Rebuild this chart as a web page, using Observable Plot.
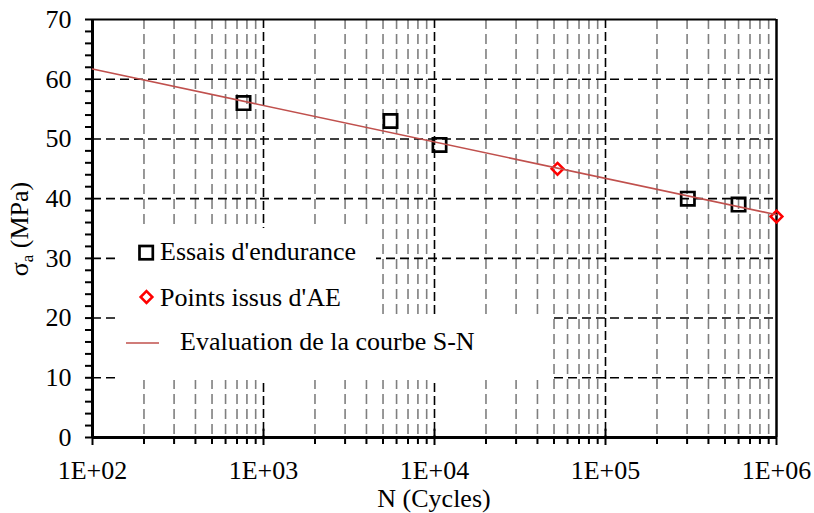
<!DOCTYPE html>
<html><head><meta charset="utf-8">
<script src="https://cdn.jsdelivr.net/npm/d3@7"></script>
<script src="https://cdn.jsdelivr.net/npm/@observablehq/plot@0.6"></script>
<style>body{margin:0;background:#fff}</style>
</head><body><div id="chart"></div>
<script>
// Data
const essaisN = [764, 5530, 10700, 303000, 600000];
const essaisS = [56, 53, 49, 40, 39];
const aeN = [52400, 1000000];
const aeS = [45, 37];
const courbeN = [100, 1000000];
const courbeS = [61.7, 37.3];
const xMajor = [1e2, 1e3, 1e4, 1e5, 1e6];
const xTickLabels = ["1E+02", "1E+03", "1E+04", "1E+05", "1E+06"];
const yMajor = [0, 10, 20, 30, 40, 50, 60, 70];
const yMinor = d3.range(0, 71, 2);
const legendLabels = ["Essais d'endurance", "Points issus d'AE", "Evaluation de la courbe S-N"];
const xTitle = "N (Cycles)";

const xMinor = [];
for (const dec of xMajor.slice(0, -1)) for (let k = 2; k <= 9; k++) xMinor.push(k * dec);

const essais = essaisN.map((n, i) => ({n, s: essaisS[i]}));
const ae = aeN.map((n, i) => ({n, s: aeS[i]}));
const courbe = courbeN.map((n, i) => ({n, s: courbeS[i]}));

const font = "'Liberation Serif', 'Times New Roman', serif";
const fs = 26;
const fmtX = d => xTickLabels[xMajor.indexOf(d)];

const plot = Plot.plot({
  width: 814, height: 513,
  marginLeft: 92, marginRight: 38, marginTop: 19, marginBottom: 76,
  style: {fontFamily: font, fontSize: fs + "px", background: "white", color: "black", overflow: "visible"},
  x: {type: "log", domain: [1e2, 1e6]},
  y: {domain: [0, 70]},
  marks: [
    Plot.ruleX(xMinor, {stroke: "#7f7f7f", strokeWidth: 1.6, strokeDasharray: "10,5"}),
    Plot.ruleX(xMajor.slice(1, -1), {stroke: "black", strokeWidth: 1.6, strokeDasharray: "9,4"}),
    Plot.ruleY(yMajor.slice(1, -1), {stroke: "black", strokeWidth: 1.6, strokeDasharray: "9,5"}),
    Plot.axisY(yMinor, {tickSize: 7, tickPadding: 14, strokeWidth: 2, label: null,
      tickFormat: d => d % 10 === 0 ? String(d) : "", fontSize: fs}),
    Plot.axisX(xMinor, {tickSize: 7, strokeWidth: 2, label: null, tickFormat: () => ""}),
    Plot.axisX(xMajor, {tickSize: 8, tickPadding: 15, strokeWidth: 2, label: null, tickFormat: fmtX, fontSize: fs}),
    Plot.ruleX(xMajor.slice(1, -1), {y1: 0, y2: 1.4, stroke: "black", strokeWidth: 2}),
    Plot.ruleY([70], {stroke: "black", strokeWidth: 2}),
    Plot.ruleX([1e6], {stroke: "black", strokeWidth: 2.5}),
    Plot.ruleX([1e2], {stroke: "black", strokeWidth: 3}),
    Plot.ruleY([0], {stroke: "black", strokeWidth: 3}),
    Plot.dot(essais, {x: "n", y: "s", symbol: "square", r: 7.5, stroke: "black", strokeWidth: 2.7, fill: "none"}),
    Plot.dot(ae, {x: "n", y: "s", symbol: "diamond2", r: 5.3, stroke: "red", strokeWidth: 2.5, fill: "none"}),
    Plot.line(courbe, {x: "n", y: "s", stroke: "#c0504d", strokeWidth: 1.6})
  ]
});

const svg = d3.select(plot);
// Legend
const g = svg.append("g").attr("font-family", font).attr("font-size", fs).attr("fill", "black").attr("text-anchor", "start");
g.append("rect").attr("x", 117).attr("y", 228).attr("width", 259).attr("height", 89).attr("fill", "white");
g.append("rect").attr("x", 120).attr("y", 317).attr("width", 433).attr("height", 63).attr("fill", "white");
g.append("rect").attr("x", 139.5).attr("y", 246).attr("width", 13.3).attr("height", 13.3)
  .attr("fill", "none").attr("stroke", "black").attr("stroke-width", 2.7);
g.append("path").attr("d", d3.symbol(d3.symbolDiamond2, Math.PI * 5.3 * 5.3)())
  .attr("transform", "translate(146.5,297)").attr("fill", "none").attr("stroke", "red").attr("stroke-width", 2.5);
g.append("line").attr("x1", 126).attr("x2", 159).attr("y1", 343).attr("y2", 343)
  .attr("stroke", "#c0504d").attr("stroke-width", 1.6);
g.append("text").attr("x", 160).attr("y", 260).text(legendLabels[0]);
g.append("text").attr("x", 160).attr("y", 306).text(legendLabels[1]);
g.append("text").attr("x", 180).attr("y", 350).text(legendLabels[2]);

// Axis titles
svg.append("text").attr("x", 434).attr("y", 507).attr("text-anchor", "middle")
  .attr("font-family", font).attr("font-size", fs).attr("fill", "black").text(xTitle);
const yt = svg.append("text").attr("transform", "translate(28,229) rotate(-90)").attr("text-anchor", "middle")
  .attr("font-family", font).attr("font-size", fs).attr("fill", "black");
yt.append("tspan").text("σ");
yt.append("tspan").attr("font-size", 17).attr("dy", 5).text("a");
yt.append("tspan").attr("dy", -5).text(" (MPa)");

document.getElementById("chart").appendChild(plot);
</script>
</body></html>
